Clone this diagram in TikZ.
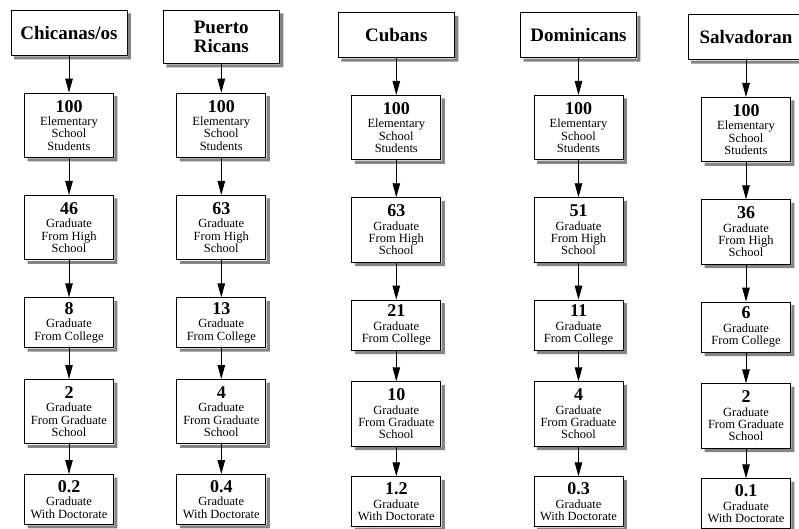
\documentclass[tikz,border=0pt]{standalone}
\usepackage{fontspec}
\setmainfont{Liberation Serif}
\usetikzlibrary{arrows.meta}

% grey L-shaped offset shadow along the right and lower sides of a box
\newcommand\boxshadow[1]{%
  \fill[boxshade] ([shift={(0.45,3.5)}]#1.north east) -- ([shift={(3.5,3.5)}]#1.north east)
    -- ([shift={(3.5,3.5)}]#1.south east) -- ([shift={(3.5,3.5)}]#1.south west)
    -- ([shift={(3.5,0.45)}]#1.south west) -- ([shift={(0.45,0.45)}]#1.south east) -- cycle;}

% one flow column: name, x, vertical offset, heading, five counts
\newcommand\degreecolumn[9]{%
  \node[hdr]   (#1h) at (#2,10+#3)    {#4};
  \node[tall]  (#1a) at (#2,92.7+#3)  {\stagenum{#5}Elementary\\School\\Students};
  \node[tall]  (#1b) at (#2,195+#3)   {\stagenum{#6}Graduate\\From High\\School};
  \node[short] (#1c) at (#2,297.3+#3) {\stagenum{#7}Graduate\\From College};
  \node[tall]  (#1d) at (#2,379+#3)   {\stagenum{#8}Graduate\\From Graduate\\School};
  \node[short] (#1e) at (#2,474+#3)   {\stagenum{#9}Graduate\\With Doctorate};
  \boxshadow{#1h}\boxshadow{#1a}\boxshadow{#1b}
  \boxshadow{#1c}\boxshadow{#1d}\boxshadow{#1e}
  \draw[flow] (#1h) -- (#1a);
  \draw[flow] (#1a) -- (#1b);
  \draw[flow] (#1b) -- (#1c);
  \draw[flow] (#1c) -- (#1d);
  \draw[flow] (#1d) -- (#1e);
}
\newcommand\stagenum[1]{{\bfseries\fontsize{18}{18}\selectfont #1}\\[1pt]}

\tikzset{
  boxshade/.style={fill=black!48},
  boxbase/.style={draw=black, line width=0.9pt, fill=white, anchor=north,
    align=center, inner xsep=0pt},
  hdr/.style={boxbase, minimum width=116pt, minimum height=45pt, inner ysep=11pt,
    font=\bfseries\fontsize{19}{18.3}\selectfont},
  tall/.style={boxbase, minimum width=89pt, minimum height=64.4pt, inner ysep=0pt,
    font=\fontsize{12.5}{12.4}\selectfont},
  short/.style={boxbase, minimum width=89pt, minimum height=50pt, inner ysep=0pt,
    font=\fontsize{12.5}{12.4}\selectfont},
  flow/.style={draw=black, line width=0.9pt, -{Triangle[length=14pt,width=7.5pt]}},
}

\begin{document}
\begin{tikzpicture}[x=1pt,y=-1pt]
  \useasboundingbox (0,0) rectangle (799,529);
  \fill[white] (0,0) rectangle (799,529);
  \clip (0,0) rectangle (799,529);

  \degreecolumn{chi}{69}{0}{Chicanas/os}{100}{46}{8}{2}{0.2}
  \degreecolumn{pur}{221.3}{0}{Puerto\\Ricans}{100}{63}{13}{4}{0.4}
  \degreecolumn{cub}{396.3}{2.3}{Cubans}{100}{63}{21}{10}{1.2}
  \degreecolumn{dom}{578.5}{2.3}{Dominicans}{100}{51}{11}{4}{0.3}
  \degreecolumn{sal}{746}{4.3}{Salvadoran}{100}{36}{6}{2}{0.1}
\end{tikzpicture}
\end{document}
